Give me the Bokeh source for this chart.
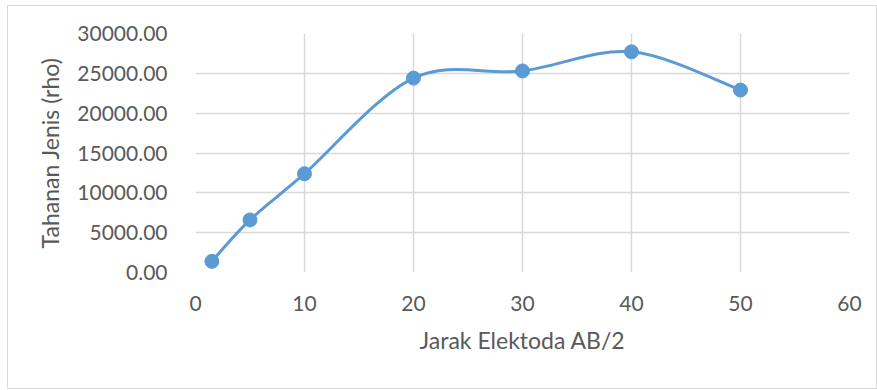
from bokeh.plotting import figure
from bokeh.models import FixedTicker, NumeralTickFormatter, Range1d, ColumnDataSource
from bokeh.embed import file_html
from bokeh.resources import INLINE

# Electrode spacing (AB/2) and apparent resistivity
jarak = [1.5, 5, 10, 20, 30, 40, 50]
rho = [1400, 6600, 12400, 24400, 25300, 27700, 22900]

x_ticks = [0, 10, 20, 30, 40, 50, 60]
y_ticks = [0, 5000, 10000, 15000, 20000, 25000, 30000]

LINE = "#5B9BD5"
GRID = "#d9d9d9"
TEXT = "#595959"
FONT = "Lato"

p = figure(width=870, height=384, output_backend="svg", toolbar_location=None,
           x_range=Range1d(0, 60), y_range=Range1d(0, 30000),
           min_border_left=187, min_border_right=29, min_border_top=27, min_border_bottom=118)
p.margin = (5, 0, 0, 7)
p.styles = {"border": "1px solid #d9d9d9"}
p.outline_line_color = None
p.background_fill_color = "white"
p.border_fill_color = "white"

# Smooth curve through the points: Catmull-Rom segments as cubic Beziers
n = len(jarak)
seg = dict(x0=[], y0=[], x1=[], y1=[], cx0=[], cy0=[], cx1=[], cy1=[])
for i in range(n - 1):
    pi_x, pi_y = jarak[i], rho[i]
    pj_x, pj_y = jarak[i + 1], rho[i + 1]
    pm_x, pm_y = (jarak[i - 1], rho[i - 1]) if i > 0 else (pi_x, pi_y)
    pn_x, pn_y = (jarak[i + 2], rho[i + 2]) if i + 2 < n else (pj_x, pj_y)
    seg["x0"].append(pi_x); seg["y0"].append(pi_y)
    seg["x1"].append(pj_x); seg["y1"].append(pj_y)
    seg["cx0"].append(pi_x + (pj_x - pm_x) / 6); seg["cy0"].append(pi_y + (pj_y - pm_y) / 6)
    seg["cx1"].append(pj_x - (pn_x - pi_x) / 6); seg["cy1"].append(pj_y - (pn_y - pi_y) / 6)

p.bezier(x0="x0", y0="y0", x1="x1", y1="y1", cx0="cx0", cy0="cy0", cx1="cx1", cy1="cy1",
         source=ColumnDataSource(seg), line_color=LINE, line_width=3)
p.scatter(jarak, rho, size=14, fill_color=LINE, line_color=LINE)

# Axes
p.xaxis.ticker = FixedTicker(ticks=x_ticks)
p.yaxis.ticker = FixedTicker(ticks=y_ticks)
p.yaxis.formatter = NumeralTickFormatter(format="0.00")
for ax in (p.xaxis[0], p.yaxis[0]):
    ax.axis_line_color = None
    ax.major_tick_line_color = None
    ax.minor_tick_line_color = None
    ax.major_label_text_font = FONT
    ax.major_label_text_font_size = "21px"
    ax.major_label_text_color = TEXT
    ax.axis_label_text_font = FONT
    ax.axis_label_text_font_size = "23px"
    ax.axis_label_text_font_style = "normal"
    ax.axis_label_text_color = TEXT
p.xaxis.major_label_standoff = 17
p.yaxis.major_label_standoff = 22
p.xaxis.axis_label = "Jarak Elektoda AB/2"
p.yaxis.axis_label = "Tahanan Jenis (rho)"
p.xaxis.axis_label_standoff = 12
p.yaxis.axis_label_standoff = 10

p.xgrid.ticker = FixedTicker(ticks=x_ticks)
p.ygrid.ticker = FixedTicker(ticks=y_ticks)
p.xgrid.grid_line_color = GRID
p.ygrid.grid_line_color = GRID
p.xgrid.grid_line_width = 1.5
p.ygrid.grid_line_width = 1.5

open("out.html", "w").write(file_html(p, INLINE))
